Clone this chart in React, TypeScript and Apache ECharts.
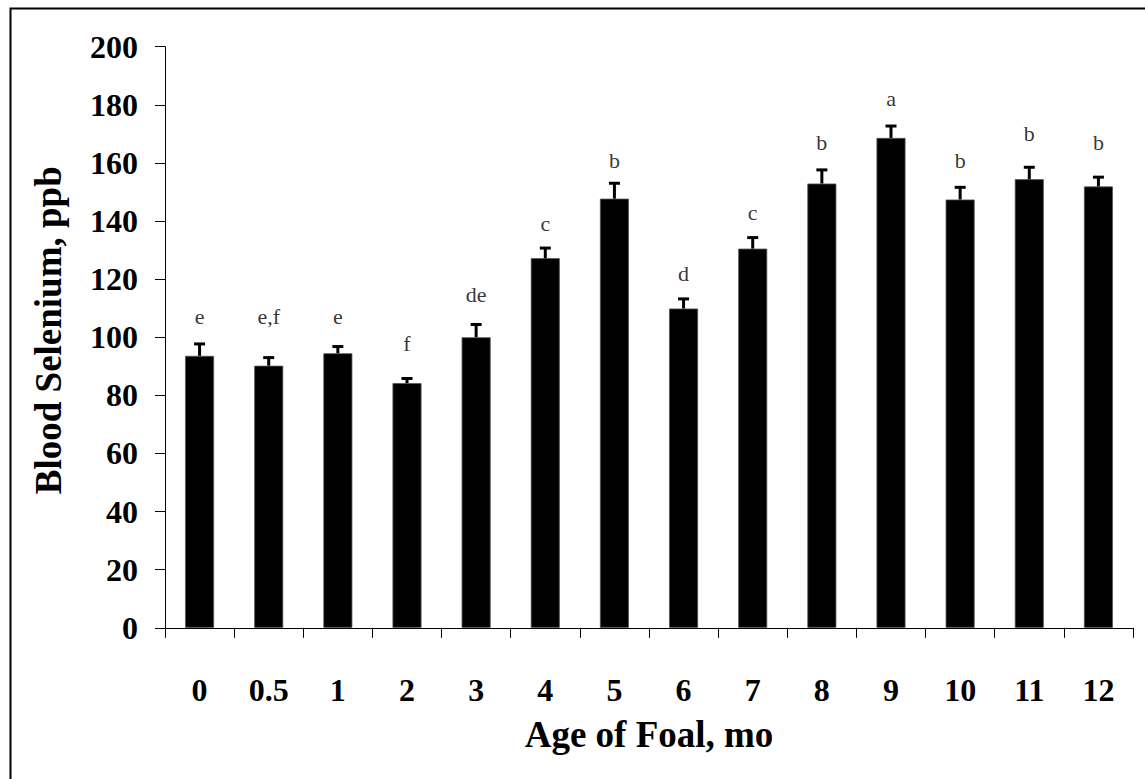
import React, { useEffect, useRef } from "react";
import * as echarts from "echarts";

const ages = ["0", "0.5", "1", "2", "3", "4", "5", "6", "7", "8", "9", "10", "11", "12"];
const selenium = [93.6, 90.2, 94.5, 84.2, 100.0, 127.2, 147.7, 109.9, 130.5, 152.9, 168.6, 147.4, 154.4, 151.9];
const sem = [4.1, 2.8, 2.3, 1.6, 4.4, 3.5, 5.3, 3.3, 3.8, 4.7, 4.1, 4.2, 4.1, 3.2];
const letters = ["e", "e,f", "e", "f", "de", "c", "b", "d", "c", "b", "a", "b", "b", "b"];
const letterY = [107.3, 107.3, 107.3, 98.0, 114.6, 139.3, 161.0, 122.1, 142.8, 167.1, 182.0, 161.0, 170.0, 167.1];
const yTicks = { min: 0, max: 200, interval: 20 };

const FONT = "'Liberation Serif', 'Times New Roman', serif";

export default function App() {
  const ref = useRef<HTMLDivElement>(null);
  useEffect(() => {
    if (!ref.current) return;
    const chart = echarts.init(ref.current, null, { renderer: "svg" });
    const errData = selenium.map((v, i) => [i, v, v + sem[i]]);
    chart.setOption({
      animation: false,
      backgroundColor: "#ffffff",
      graphic: [
        {
          type: "rect",
          left: 8,
          top: 6,
          shape: { width: 1200, height: 800 },
          style: { fill: "none", stroke: "#000", lineWidth: 2 },
          z: 100,
        },
      ],
      grid: { left: 165, right: 12, top: 46.7, bottom: 151.2, containLabel: false },
      xAxis: {
        type: "category",
        data: ages,
        boundaryGap: true,
        name: "Age of Foal, mo",
        nameLocation: "middle",
        nameGap: 88,
        nameTextStyle: { fontFamily: FONT, fontWeight: "bold", fontSize: 37, color: "#000" },
        axisLine: { lineStyle: { color: "#000", width: 1 } },
        axisTick: { show: true, length: 10, inside: false, alignWithLabel: false, lineStyle: { color: "#000" } },
        axisLabel: { fontFamily: FONT, fontWeight: "bold", fontSize: 32, color: "#000", margin: 46, interval: 0 },
        splitLine: { show: false },
      },
      yAxis: {
        type: "value",
        min: yTicks.min,
        max: yTicks.max,
        interval: yTicks.interval,
        name: "Blood Selenium, ppb",
        nameLocation: "middle",
        nameGap: 98,
        nameTextStyle: {
          fontFamily: FONT,
          fontWeight: "bold",
          fontSize: 37,
          color: "#000",
          padding: [0, 0, 0, 14],
        },
        axisLine: { show: true, lineStyle: { color: "#000", width: 1 } },
        axisTick: { show: true, length: 10, inside: false, lineStyle: { color: "#000" } },
        axisLabel: { fontFamily: FONT, fontWeight: "bold", fontSize: 32, color: "#000", margin: 27 },
        splitLine: { show: false },
      },
      series: [
        {
          type: "bar",
          data: selenium,
          barWidth: 29,
          itemStyle: { color: "#000", borderColor: "#555", borderWidth: 0.8 },
          z: 2,
        },
        {
          type: "custom",
          data: errData,
          z: 3,
          renderItem: (params: any, api: any) => {
            const x = api.value(0);
            const base = api.coord([x, api.value(1)]);
            const top = api.coord([x, api.value(2)]);
            return {
              type: "group",
              children: [
                {
                  type: "line",
                  shape: { x1: base[0], y1: base[1], x2: top[0], y2: top[1] },
                  style: { stroke: "#000", lineWidth: 3 },
                },
                {
                  type: "line",
                  shape: { x1: top[0] - 5.5, y1: top[1], x2: top[0] + 5.5, y2: top[1] },
                  style: { stroke: "#000", lineWidth: 3 },
                },
              ],
            };
          },
        },
        {
          type: "scatter",
          data: letterY.map((v, i) => [i, v]),
          symbolSize: 0,
          z: 4,
          label: {
            show: true,
            position: "inside",
            formatter: (p: any) => letters[p.dataIndex],
            fontFamily: FONT,
            fontSize: 22,
            color: "#000",
          },
        },
      ],
    });
    return () => chart.dispose();
  }, []);
  return (
    <div
      ref={ref}
      style={{ position: "absolute", left: 0, top: 0, width: 1145, height: 779, background: "#fff" }}
    />
  );
}
